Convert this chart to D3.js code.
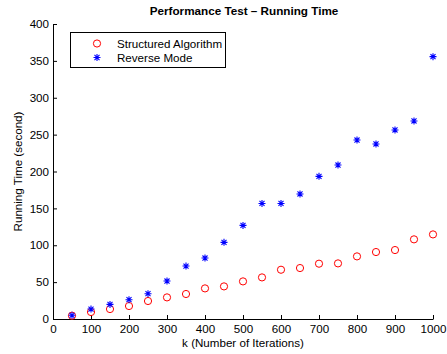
<!DOCTYPE html>
<html>
<head>
<meta charset="utf-8">
<script src="https://cdn.jsdelivr.net/npm/d3@7"></script>
<style>
  body { margin: 0; background: #fff; }
  text { font-family: "Liberation Sans", Arial, sans-serif; fill: #000; }
</style>
</head>
<body>
<svg id="chart" width="447" height="354"></svg>
<script>
// iterations (x values)
var iterations = [50, 100, 150, 200, 250, 300, 350, 400, 450, 500,
                  550, 600, 650, 700, 750, 800, 850, 900, 950, 1000];
// running time of structured algorithm
var structured = [4.5, 9.5, 13.5, 17.6, 24.4, 29.3, 33.9, 41.5, 44.2, 51,
                  56.4, 66.8, 69.1, 75, 75.4, 84.9, 90.8, 93.5, 108, 114.7];
// running time of reverse mode
var reverse = [5, 13.5, 19.8, 26.2, 34.3, 51.5, 71.8, 82.7, 103.9, 126.9,
               156.7, 156.7, 169.5, 193.4, 208.8, 242.7, 237.3, 256.3, 268.5, 355.7];
// tick labels
var xTicks = [0, 100, 200, 300, 400, 500, 600, 700, 800, 900, 1000];
var yTicks = [0, 50, 100, 150, 200, 250, 300, 350, 400];
var legendNames = ["Structured Algorithm", "Reverse Mode"];

var svg = d3.select("#chart");
var fs = "11.6px";

var x = d3.scaleLinear().domain([0, 1000]).range([53, 433]);
var y = d3.scaleLinear().domain([0, 400]).range([319, 24]);

// axes, ticks point inward like matlab
var xAxis = svg.append("g")
	.attr("transform", "translate(0," + y(0) + ")")
	.call(d3.axisBottom(x).tickValues(xTicks).tickFormat(d3.format("d"))
		.tickSize(-4).tickPadding(4).tickSizeOuter(0));
var yAxis = svg.append("g")
	.attr("transform", "translate(" + x(0) + ",0)")
	.call(d3.axisLeft(y).tickValues(yTicks).tickFormat(d3.format("d"))
		.tickSize(-4).tickPadding(4).tickSizeOuter(0));

[xAxis, yAxis].forEach(function(g){
	g.selectAll("text").style("font-size", fs).attr("fill", "#000");
	g.selectAll("line, path").attr("stroke", "#000");
});
xAxis.selectAll("text").attr("dy", "0.85em");

// title and axis labels
svg.append("text")
	.attr("x", 244).attr("y", 15)
	.attr("text-anchor", "middle")
	.style("font-size", "11.7px").style("font-weight", "bold")
	.text("Performance Test \u2013 Running Time");

svg.append("text")
	.attr("x", 243).attr("y", 347)
	.attr("text-anchor", "middle")
	.style("font-size", fs)
	.text("k (Number of Iterations)");

svg.append("text")
	.attr("transform", "translate(22," + ((y(0) + y(400)) / 2) + ") rotate(-90)")
	.attr("text-anchor", "middle")
	.style("font-size", fs)
	.text("Running Time (second)");

// asterisk marker path
function star(cx, cy, r) {
	var d = r * 0.72;
	return "M" + (cx - r) + "," + cy + "L" + (cx + r) + "," + cy +
		"M" + cx + "," + (cy - r) + "L" + cx + "," + (cy + r) +
		"M" + (cx - d) + "," + (cy - d) + "L" + (cx + d) + "," + (cy + d) +
		"M" + (cx - d) + "," + (cy + d) + "L" + (cx + d) + "," + (cy - d);
}

// structured algorithm circles
svg.append("g").selectAll("circle")
	.data(iterations)
	.join("circle")
	.attr("cx", function(d){ return x(d); })
	.attr("cy", function(d, i){ return y(structured[i]); })
	.attr("r", 3.6)
	.attr("fill", "none")
	.attr("stroke", "#ff0000")
	.attr("stroke-width", 1);

// reverse mode stars
svg.append("g").selectAll("path")
	.data(iterations)
	.join("path")
	.attr("d", function(d, i){ return star(x(d), y(reverse[i]), 3.5); })
	.attr("stroke", "#0000ff")
	.attr("stroke-width", 1.1)
	.attr("fill", "none");

// legend
var legend = svg.append("g");
legend.append("rect")
	.attr("x", 70.5).attr("y", 32.5)
	.attr("width", 155).attr("height", 35)
	.attr("fill", "#fff").attr("stroke", "#000").attr("stroke-width", 1);
legend.append("circle")
	.attr("cx", 97).attr("cy", 43.5).attr("r", 3.6)
	.attr("fill", "none").attr("stroke", "#ff0000");
legend.append("path")
	.attr("d", star(97, 57.5, 3.5))
	.attr("stroke", "#0000ff").attr("stroke-width", 1.1);
legend.selectAll("text")
	.data(legendNames)
	.join("text")
	.attr("x", 117)
	.attr("y", function(d, i){ return 47.5 + i * 14.3; })
	.style("font-size", fs)
	.text(function(d){ return d; });
</script>
</body>
</html>
